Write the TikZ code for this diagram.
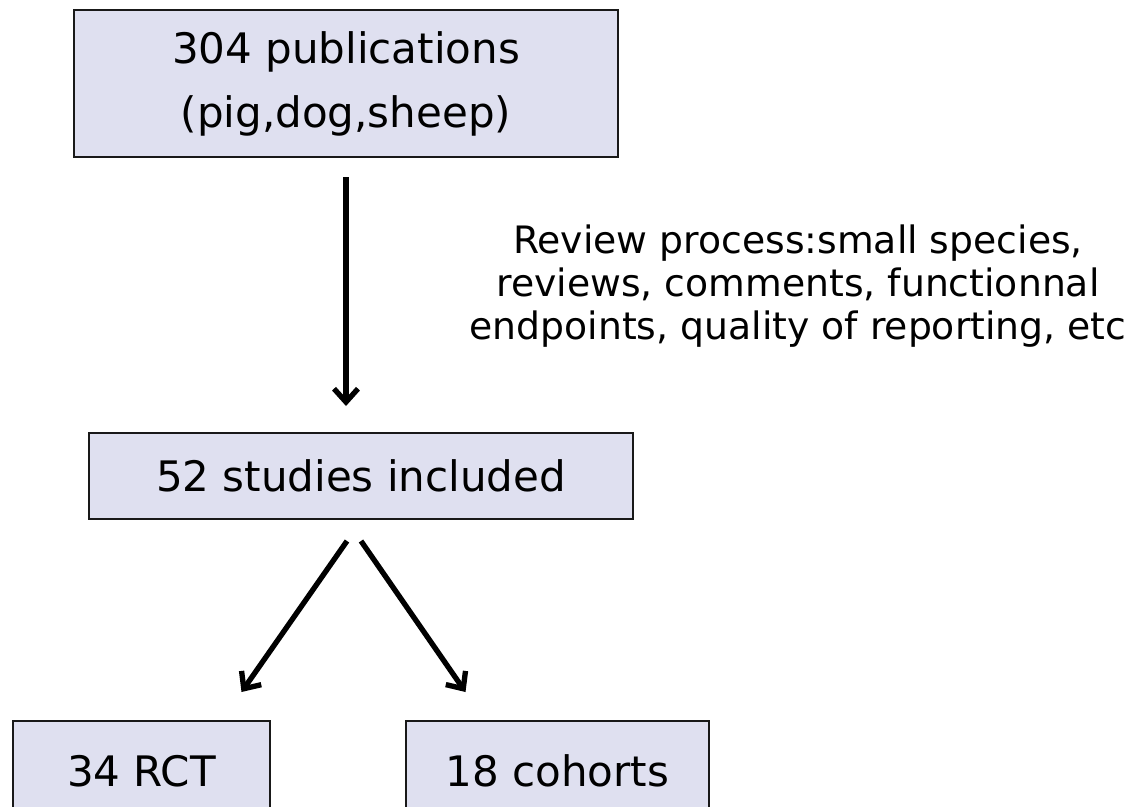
\documentclass[tikz,border=0pt]{standalone}
\usepackage{fontspec}
\setmainfont{DejaVu Sans}
\usetikzlibrary{arrows.meta,calc}
\definecolor{boxfill}{RGB}{223,224,240}
\newcommand*{\boxtextstyle}{\fontsize{31.5}{48}\selectfont}
\newcommand*{\notetextstyle}{\fontsize{28.3}{32.3}\selectfont}

\begin{document}
\begin{tikzpicture}[x=0.75pt,y=-0.75pt,
    stage/.style={draw=black!90, line width=1.5pt, fill=boxfill,
      inner sep=0pt, align=center, font=\boxtextstyle},
    flow/.style={line width=4pt, -{Straight Barb[length=10pt,width=18pt]}}]
  \useasboundingbox (0,0) rectangle (1136,807);
  % boxes
  \node[stage, minimum width=408pt, minimum height=110.25pt] (pub) at (346,83.5)
    {304 publications\\(pig,dog,sheep)};
  \node[stage, minimum width=408pt, minimum height=64.5pt] (incl) at (361,476)
    {52 studies included};
  \node[stage, minimum width=192.75pt, minimum height=75pt] (rct) at (141.5,771)
    {34 RCT};
  \node[stage, minimum width=227.25pt, minimum height=75pt] (coh) at (557.5,771)
    {18 cohorts};
  \node[font=\notetextstyle, align=center] (note) at (798,286)
    {Review process:small species,\\reviews, comments, functionnal\\endpoints, quality of reporting, etc};
  % arrows
  \coordinate (rctin) at ($(rct.north)+(100,-28)$);
  \coordinate (cohin) at ($(coh.north)+(-92,-28)$);
  \draw[flow, shorten <=14.25pt, shorten >=19.5pt] (pub.south) -- (pub.south |- incl.north);
  \draw[flow] ($(incl.south)+(-14,21)$) -- (rctin);
  \draw[flow] ($(incl.south)+(0,21)$) -- (cohin);
\end{tikzpicture}
\end{document}
